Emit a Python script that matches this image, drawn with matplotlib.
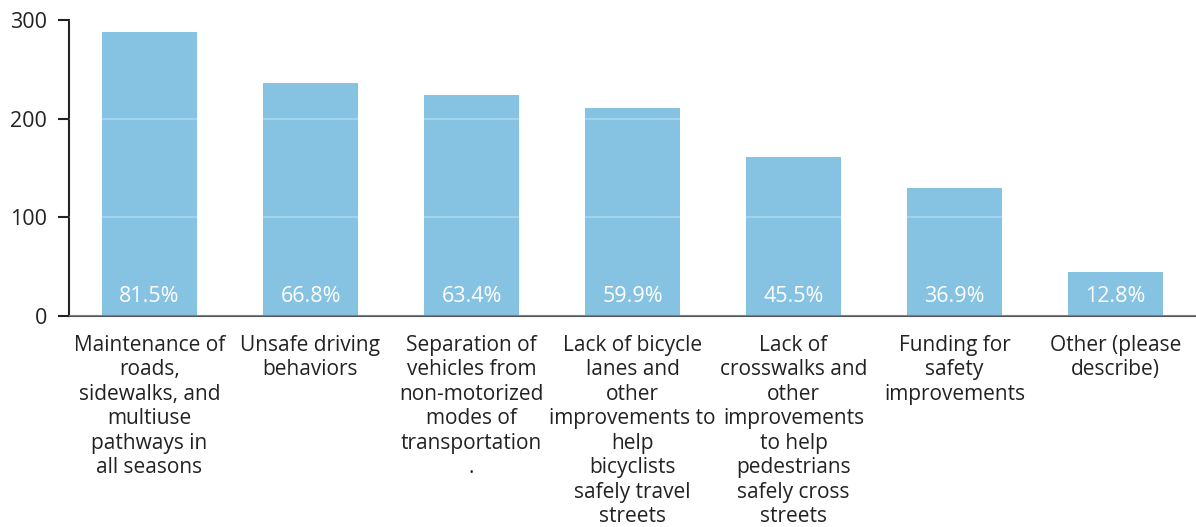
import matplotlib
matplotlib.use("Agg")
import matplotlib.pyplot as plt

categories = [
    "Maintenance of\nroads,\nsidewalks, and\nmultiuse\npathways in\nall seasons",
    "Unsafe driving\nbehaviors",
    "Separation of\nvehicles from\nnon-motorized\nmodes of\ntransportation\n.",
    "Lack of bicycle\nlanes and\nother\nimprovements to\nhelp\nbicyclists\nsafely travel\nstreets",
    "Lack of\ncrosswalks and\nother\nimprovements\nto help\npedestrians\nsafely cross\nstreets",
    "Funding for\nsafety\nimprovements",
    "Other (please\ndescribe)",
]
counts = [288, 236, 224, 211, 161, 130, 45]
percent_labels = ["81.5%", "66.8%", "63.4%", "59.9%", "45.5%", "36.9%", "12.8%"]
yticks = [0, 100, 200, 300]

plt.rcParams['font.family'] = ['Open Sans', 'DejaVu Sans']

fig = plt.figure(figsize=(11.96, 5.27), dpi=100)
ax = fig.add_axes([69/1196, (527-316)/527, (1196-69)/1196, 296/527])

x = list(range(len(categories)))
ax.bar(x, counts, width=0.59, color="#86C3E3", zorder=1)
ax.set_xlim(-0.5, len(categories) - 0.5)
ax.set_ylim(0, 300)
ax.set_yticks(yticks)
ax.set_yticklabels([str(t) for t in yticks], fontsize=15.5, color="#222222")
ax.set_xticks(x)
ax.set_xticklabels(categories, fontsize=15, color="#222222", linespacing=1.22, va="top")
ax.tick_params(axis="x", length=0, pad=13.5)
ax.tick_params(axis="y", length=8, width=1.5, color="#222222", pad=8)

for s in ["top", "right"]:
    ax.spines[s].set_visible(False)
ax.spines["left"].set_color("#222222")
ax.spines["left"].set_linewidth(1.5)
ax.spines["bottom"].set_color("#555555")
ax.spines["bottom"].set_linewidth(1.5)

ax.set_axisbelow(False)
ax.yaxis.grid(True, color="white", alpha=0.3, linewidth=1.2, zorder=2)

for xi, lab in zip(x, percent_labels):
    ax.text(xi, 20, lab, ha="center", va="center", color="white", fontsize=15.5, zorder=3)

fig.savefig("out.png", dpi=100)
